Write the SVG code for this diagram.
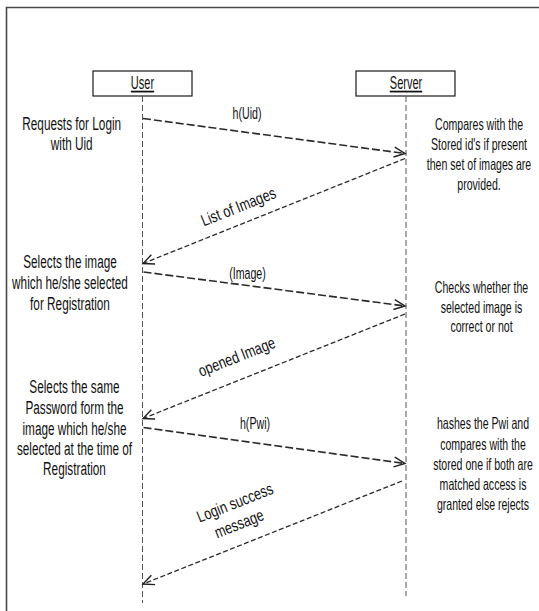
<svg xmlns="http://www.w3.org/2000/svg" width="539" height="611" viewBox="0 0 539 611">
<style>
  .frame { fill: none; stroke: #4a4a4a; stroke-width: 1.6; }
  .actor { fill: #fff; stroke: #1a1a1a; stroke-width: 1.2; }
  .life { fill: none; stroke: #555; stroke-width: 1; stroke-dasharray: 6 3; }
  .fwd { fill: none; stroke: #2a2a2a; stroke-width: 1.6; stroke-dasharray: 8 3; marker-end: url(#arr); }
  .ret { fill: none; stroke: #2a2a2a; stroke-width: 1.3; stroke-dasharray: 5 2.5; marker-end: url(#arr); }
  text { font-family: "Liberation Sans", Arial, sans-serif; fill: #111; text-anchor: middle; }
  .l { font-size: 19px; }
  .r { font-size: 16.5px; }
  .m { font-size: 16.5px; }
  .t { font-size: 17.5px; text-decoration: underline; }
</style>
<defs>
  <marker id="arr" viewBox="-13 -7 15 14" refX="0" refY="0" markerWidth="15" markerHeight="14" markerUnits="userSpaceOnUse" orient="auto">
    <path d="M-11,-5 L0,0 L-11,5" fill="none" stroke="#222" stroke-width="1.4" stroke-dasharray="none"/>
  </marker>
</defs>
<rect width="539" height="611" fill="#fff"/>
<path class="frame" d="M6.5,611 L6.5,7.5 L539,7.5"/>

<g id="user">
  <rect class="actor" x="93" y="71" width="99" height="25"/>
  <g transform="translate(142.5,0) scale(0.63,1)"><text class="t" x="0" y="89.5">User</text></g>
  <line class="life" x1="142.5" y1="96" x2="142.5" y2="603"/>
</g>
<g id="server">
  <rect class="actor" x="356" y="71" width="99" height="25"/>
  <g transform="translate(406,0) scale(0.63,1)"><text class="t" x="0" y="89.5">Server</text></g>
  <line class="life" x1="406" y1="96" x2="406" y2="596"/>
</g>

<g id="connectors">
  <line class="fwd" x1="143" y1="118.5" x2="405" y2="153.5"/>
  <line class="ret" x1="405" y1="158.5" x2="143" y2="263.5"/>
  <line class="fwd" x1="143.5" y1="272" x2="405" y2="306"/>
  <line class="ret" x1="405" y1="314" x2="143" y2="418.5"/>
  <line class="fwd" x1="143.5" y1="427.5" x2="405" y2="463.5"/>
  <line class="ret" x1="402" y1="481" x2="143" y2="584"/>
</g>

<g id="msg-labels">
  <g transform="translate(247,0) scale(0.645,1)"><text class="m" x="0" y="119.5">h(Uid)</text></g>
  <g transform="translate(240.4,212) rotate(-21.7) scale(0.77,1)"><text class="m" x="0" y="0">List of Images</text></g>
  <g transform="translate(247.5,279) scale(0.645,1)"><text class="m" x="0" y="0">(Image)</text></g>
  <g transform="translate(238.8,362) rotate(-21.5) scale(0.77,1)"><text class="m" x="0" y="0">opened Image</text></g>
  <g transform="translate(255,428.5) scale(0.645,1)"><text class="m" x="0" y="0">h(Pwi)</text></g>
  <g transform="translate(237,508) rotate(-21.6) scale(0.77,1)"><text class="m" x="0" y="0">Login success</text><text class="m" x="-5" y="21">message</text></g>
</g>

<g id="user-notes">
  <g transform="translate(71.7,0) scale(0.62,1)">
    <text class="l" x="0" y="130.5">Requests for Login</text>
    <text class="l" x="0" y="150.5">with Uid</text>
  </g>
  <g transform="translate(70,0) scale(0.62,1)">
    <text class="l" x="0" y="268.5">Selects the image</text>
    <text class="l" x="0" y="289.3">which he/she selected</text>
    <text class="l" x="0" y="310">for Registration</text>
  </g>
  <g transform="translate(74.5,0) scale(0.62,1)">
    <text class="l" x="0" y="393.3">Selects the same</text>
    <text class="l" x="0" y="414">Password form the</text>
    <text class="l" x="0" y="434.8">image which he/she</text>
    <text class="l" x="0" y="455.2">selected at the time of</text>
    <text class="l" x="0" y="475.5">Registration</text>
  </g>
</g>

<g id="server-notes">
  <g transform="translate(479,0) scale(0.64,1)">
    <text class="r" x="0" y="130">Compares with the</text>
    <text class="r" x="0" y="150.5">Stored id's if present</text>
    <text class="r" x="0" y="170.5">then set of images are</text>
    <text class="r" x="0" y="190.5">provided.</text>
  </g>
  <g transform="translate(481.5,0) scale(0.64,1)">
    <text class="r" x="0" y="293.5">Checks whether the</text>
    <text class="r" x="0" y="313">selected image is</text>
    <text class="r" x="0" y="332.5">correct or not</text>
  </g>
  <g transform="translate(483,0) scale(0.64,1)">
    <text class="r" x="0" y="429.5">hashes the Pwi and</text>
    <text class="r" x="0" y="450">compares with the</text>
    <text class="r" x="0" y="470">stored one if both are</text>
    <text class="r" x="0" y="490">matched access is</text>
    <text class="r" x="0" y="510">granted else rejects</text>
  </g>
</g>
</svg>
